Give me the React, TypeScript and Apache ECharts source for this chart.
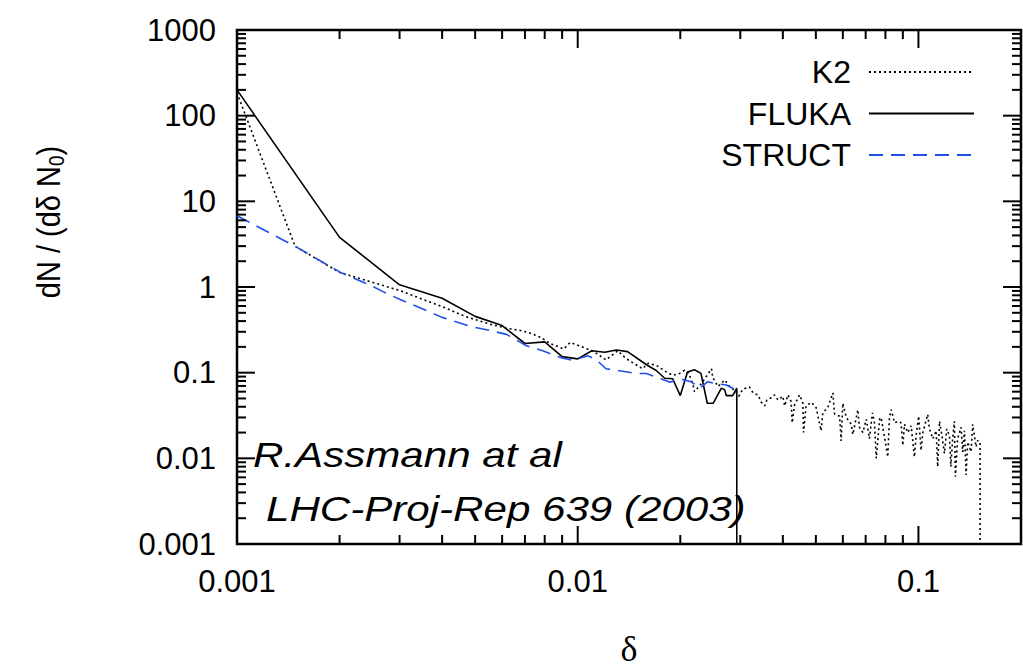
import React, { useEffect, useRef } from "react";
import * as echarts from "echarts";

// ---- data (x = delta, y = dN/(d delta N0)) ----
const K2_X = [
  0.001, 0.00148, 0.002, 0.003, 0.004, 0.0047, 0.0055, 0.0062, 0.0068, 0.0072,
  0.0078, 0.0083, 0.0091, 0.0095, 0.0101, 0.011, 0.0114, 0.0121, 0.0131, 0.0139,
  0.0155, 0.0161, 0.017, 0.0182, 0.019, 0.0199, 0.0206, 0.0212, 0.0218, 0.022,
  0.0231, 0.0247, 0.0249, 0.0258, 0.0264, 0.027, 0.0279, 0.0289, 0.0297, 0.0305,
  0.0319, 0.0327, 0.0338, 0.0346, 0.0354, 0.0359, 0.037, 0.0378, 0.0387, 0.04,
  0.0405, 0.0414, 0.0423, 0.0426, 0.0433, 0.0448, 0.0458, 0.046, 0.0468, 0.0485,
  0.0501, 0.0518, 0.0524, 0.0542, 0.0561, 0.0567, 0.0587, 0.0593, 0.06, 0.0614,
  0.0635, 0.0642, 0.0664, 0.0671, 0.0687, 0.0703, 0.0718, 0.0733, 0.0743, 0.0752,
  0.0769, 0.0777, 0.0795, 0.0813, 0.0822, 0.0832, 0.0851, 0.087, 0.0889, 0.09,
  0.091, 0.093, 0.0952, 0.0973, 0.0985, 0.1002, 0.1018, 0.103, 0.1065, 0.1077,
  0.1102, 0.1127, 0.1139, 0.1153, 0.1174, 0.1192, 0.1211, 0.1233, 0.1245, 0.126,
  0.1275, 0.1284, 0.1303, 0.1334, 0.1349, 0.1365, 0.138, 0.1395, 0.1427, 0.1443,
  0.1476, 0.1493, 0.1517, 0.1517,
];
const K2_Y = [
  185, 3.0, 1.48, 0.91, 0.59, 0.45, 0.37, 0.33, 0.31, 0.293,
  0.257, 0.219, 0.189, 0.225, 0.206, 0.18, 0.166, 0.141, 0.18, 0.145,
  0.111, 0.129, 0.122, 0.102, 0.093, 0.098, 0.107, 0.098, 0.072, 0.06,
  0.075, 0.111, 0.088, 0.069, 0.075, 0.082, 0.069, 0.062, 0.053, 0.064,
  0.068, 0.058, 0.055, 0.045, 0.041, 0.048, 0.051, 0.055, 0.048, 0.053,
  0.041, 0.055, 0.046, 0.026, 0.042, 0.055, 0.044, 0.02, 0.041, 0.045,
  0.039, 0.021, 0.034, 0.039, 0.058, 0.033, 0.031, 0.016, 0.044, 0.03,
  0.025, 0.019, 0.037, 0.023, 0.02, 0.0285, 0.017, 0.034, 0.026, 0.01,
  0.0285, 0.03, 0.0176, 0.0104, 0.03, 0.037, 0.026, 0.027, 0.026, 0.0142,
  0.025, 0.02, 0.024, 0.0104, 0.019, 0.031, 0.0124, 0.02, 0.0326, 0.022,
  0.0169, 0.021, 0.008, 0.027, 0.0176, 0.0114, 0.022, 0.0184, 0.008, 0.0169,
  0.027, 0.0061, 0.0169, 0.023, 0.0119, 0.021, 0.0064, 0.0155, 0.0119, 0.025,
  0.0136, 0.0162, 0.0155, 0.000001,
];

const FLUKA_X = [
  0.001, 0.002, 0.003, 0.004, 0.005, 0.006, 0.007, 0.008, 0.009, 0.01,
  0.011, 0.012, 0.013, 0.014, 0.016, 0.017, 0.018, 0.019, 0.02, 0.021,
  0.022, 0.023, 0.024, 0.025, 0.0264, 0.027, 0.0273, 0.0285, 0.0293, 0.0293,
];
const FLUKA_Y = [
  200, 3.8, 1.06, 0.74, 0.454, 0.355, 0.219, 0.229, 0.154, 0.145,
  0.18, 0.173, 0.184, 0.176, 0.122, 0.106, 0.086, 0.085, 0.054, 0.102,
  0.108, 0.098, 0.044, 0.044, 0.066, 0.063, 0.054, 0.054, 0.066, 0.000001,
];

const STRUCT_X = [
  0.001, 0.0015, 0.002, 0.0025, 0.00269, 0.003, 0.00329, 0.004, 0.00482, 0.00552,
  0.00618, 0.00707, 0.0079, 0.009, 0.0097, 0.0107, 0.0114, 0.0121, 0.013, 0.0149,
  0.0159, 0.0174, 0.0186, 0.0203, 0.0215, 0.0228, 0.0241, 0.0252, 0.0273, 0.0285,
  0.0293,
];
const STRUCT_Y = [
  6.8, 2.9, 1.5, 1.02, 0.877, 0.72, 0.618, 0.442, 0.348, 0.311,
  0.28, 0.206, 0.18, 0.148, 0.139, 0.158, 0.139, 0.111, 0.1065, 0.0977,
  0.0977, 0.0856, 0.0776, 0.0834, 0.0785, 0.0658, 0.0785, 0.075, 0.0718, 0.0658,
  0.064,
];

const SERIES_NAMES = ["K2", "FLUKA", "STRUCT"];
const X_DECADES = [0.001, 0.01, 0.1];
const Y_DECADES = [0.001, 0.01, 0.1, 1, 10, 100];
const X_RANGE = [0.001, 0.2];
const Y_RANGE = [0.001, 1000];

const zip = (xs: number[], ys: number[]) => xs.map((x, i) => [x, ys[i]]);

const tickValues = (decades: number[], max: number) => {
  const out: number[][] = [];
  decades.forEach((d) => {
    for (let m = 1; m <= 9; m++) {
      const v = parseFloat((d * m).toPrecision(6));
      if (v <= max) out.push([v, m === 1 ? 1 : 0]);
    }
  });
  if (max >= decades[decades.length - 1] * 10) out.push([max, 1]);
  return out;
};

const fmt = (v: number) => String(parseFloat(Number(v).toPrecision(6)));

export default function App() {
  const ref = useRef<HTMLDivElement>(null);
  useEffect(() => {
    if (!ref.current) return;
    const chart = echarts.init(ref.current, undefined, { renderer: "svg" });
    const font = "Liberation Sans";
    const xTicks = tickValues(X_DECADES, X_RANGE[1]).filter((t) => t[0] < X_RANGE[1]);
    const yTicks = tickValues(Y_DECADES, Y_RANGE[1]);

    const option: any = {
      animation: false,
      backgroundColor: "#fff",
      grid: {
        left: 237,
        top: 30,
        width: 784,
        height: 523,
        show: true,
        borderColor: "#000",
        borderWidth: 2.5,
        backgroundColor: "transparent",
      },
      xAxis: {
        type: "log",
        logBase: 10,
        min: X_RANGE[0],
        max: X_RANGE[1],
        axisLine: { show: false },
        axisTick: { show: false },
        splitLine: { show: false },
        minorTick: { show: false },
        axisLabel: {
          fontSize: 31,
          fontFamily: font,
          color: "#000",
          margin: 22,
          showMaxLabel: false,
          formatter: fmt,
        },
        name: "δ",
        nameLocation: "middle",
        nameGap: 87,
        nameTextStyle: { fontFamily: "Liberation Serif", fontSize: 36, color: "#000" },
      },
      yAxis: {
        type: "log",
        logBase: 10,
        min: Y_RANGE[0],
        max: Y_RANGE[1],
        axisLine: { show: false },
        axisTick: { show: false },
        splitLine: { show: false },
        minorTick: { show: false },
        axisLabel: {
          fontSize: 31,
          fontFamily: font,
          color: "#000",
          margin: 21,
          formatter: fmt,
        },
      },
      legend: {
        data: SERIES_NAMES,
        orient: "vertical",
        right: 43,
        top: 51,
        align: "right",
        itemWidth: 105,
        itemHeight: 14,
        itemGap: 9.5,
        itemStyle: { opacity: 0 },
        textStyle: {
          fontSize: 32,
          fontFamily: font,
          color: "#000",
          padding: [0, 13, 0, 0],
        },
      },
      series: [
        {
          name: "K2",
          type: "line",
          data: zip(K2_X, K2_Y),
          showSymbol: false,
          symbol: "none",
          lineStyle: { color: "#000", width: 1.6, type: [2, 3] },
          itemStyle: { color: "#000" },
        },
        {
          name: "FLUKA",
          type: "line",
          data: zip(FLUKA_X, FLUKA_Y),
          showSymbol: false,
          symbol: "none",
          lineStyle: { color: "#000", width: 1.6 },
          itemStyle: { color: "#000" },
        },
        {
          name: "STRUCT",
          type: "line",
          data: zip(STRUCT_X, STRUCT_Y),
          showSymbol: false,
          symbol: "none",
          lineStyle: { color: "#1f4fe8", width: 1.6, type: [14, 8] },
          itemStyle: { color: "#1f4fe8" },
        },
        {
          name: "xticks",
          type: "custom",
          silent: true,
          z: 10,
          data: xTicks.map((t) => [t[0], 1, t[1]]),
          encode: { x: 0, y: 1 },
          renderItem: (params: any, api: any) => {
            const p = api.coord([api.value(0), api.value(1)]);
            const cs = params.coordSys;
            const len = api.value(2) === 1 ? 18 : 9;
            const st = { stroke: "#000", lineWidth: 2 };
            return {
              type: "group",
              children: [
                { type: "line", shape: { x1: p[0], y1: cs.y + cs.height, x2: p[0], y2: cs.y + cs.height - len }, style: st },
                { type: "line", shape: { x1: p[0], y1: cs.y, x2: p[0], y2: cs.y + len }, style: st },
              ],
            };
          },
        },
        {
          name: "yticks",
          type: "custom",
          silent: true,
          z: 10,
          data: yTicks.map((t) => [0.01, t[0], t[1]]),
          encode: { x: 0, y: 1 },
          renderItem: (params: any, api: any) => {
            const p = api.coord([api.value(0), api.value(1)]);
            const cs = params.coordSys;
            const len = api.value(2) === 1 ? 18 : 9;
            const st = { stroke: "#000", lineWidth: 2 };
            return {
              type: "group",
              children: [
                { type: "line", shape: { x1: cs.x, y1: p[1], x2: cs.x + len, y2: p[1] }, style: st },
                { type: "line", shape: { x1: cs.x + cs.width, y1: p[1], x2: cs.x + cs.width - len, y2: p[1] }, style: st },
              ],
            };
          },
        },
      ],
      graphic: [
        {
          type: "text",
          x: 49,
          y: 222,
          rotation: Math.PI / 2,
          scaleY: 1.12,
          style: {
            text: "dN / (dδ N{sub|0})",
            fontSize: 29,
            fontFamily: font,
            fill: "#000",
            align: "center",
            verticalAlign: "middle",
            rich: {
              sub: { fontSize: 19, fontFamily: font, fill: "#000", padding: [14, 0, 0, 0] },
            },
          },
        },
        {
          type: "text",
          x: 253,
          y: 455,
          scaleX: 1.17,
          style: {
            text: "R.Assmann at al",
            fontSize: 36,
            fontStyle: "italic",
            fontFamily: font,
            fill: "#000",
            align: "left",
            verticalAlign: "middle",
          },
        },
        {
          type: "text",
          x: 266,
          y: 509,
          scaleX: 1.17,
          style: {
            text: "LHC-Proj-Rep 639 (2003)",
            fontSize: 36,
            fontStyle: "italic",
            fontFamily: font,
            fill: "#000",
            align: "left",
            verticalAlign: "middle",
          },
        },
      ],
    };
    chart.setOption(option);
    return () => chart.dispose();
  }, []);
  return (
    <div
      ref={ref}
      style={{ position: "fixed", left: 0, top: 0, width: 1023, height: 672, background: "#fff" }}
    />
  );
}
